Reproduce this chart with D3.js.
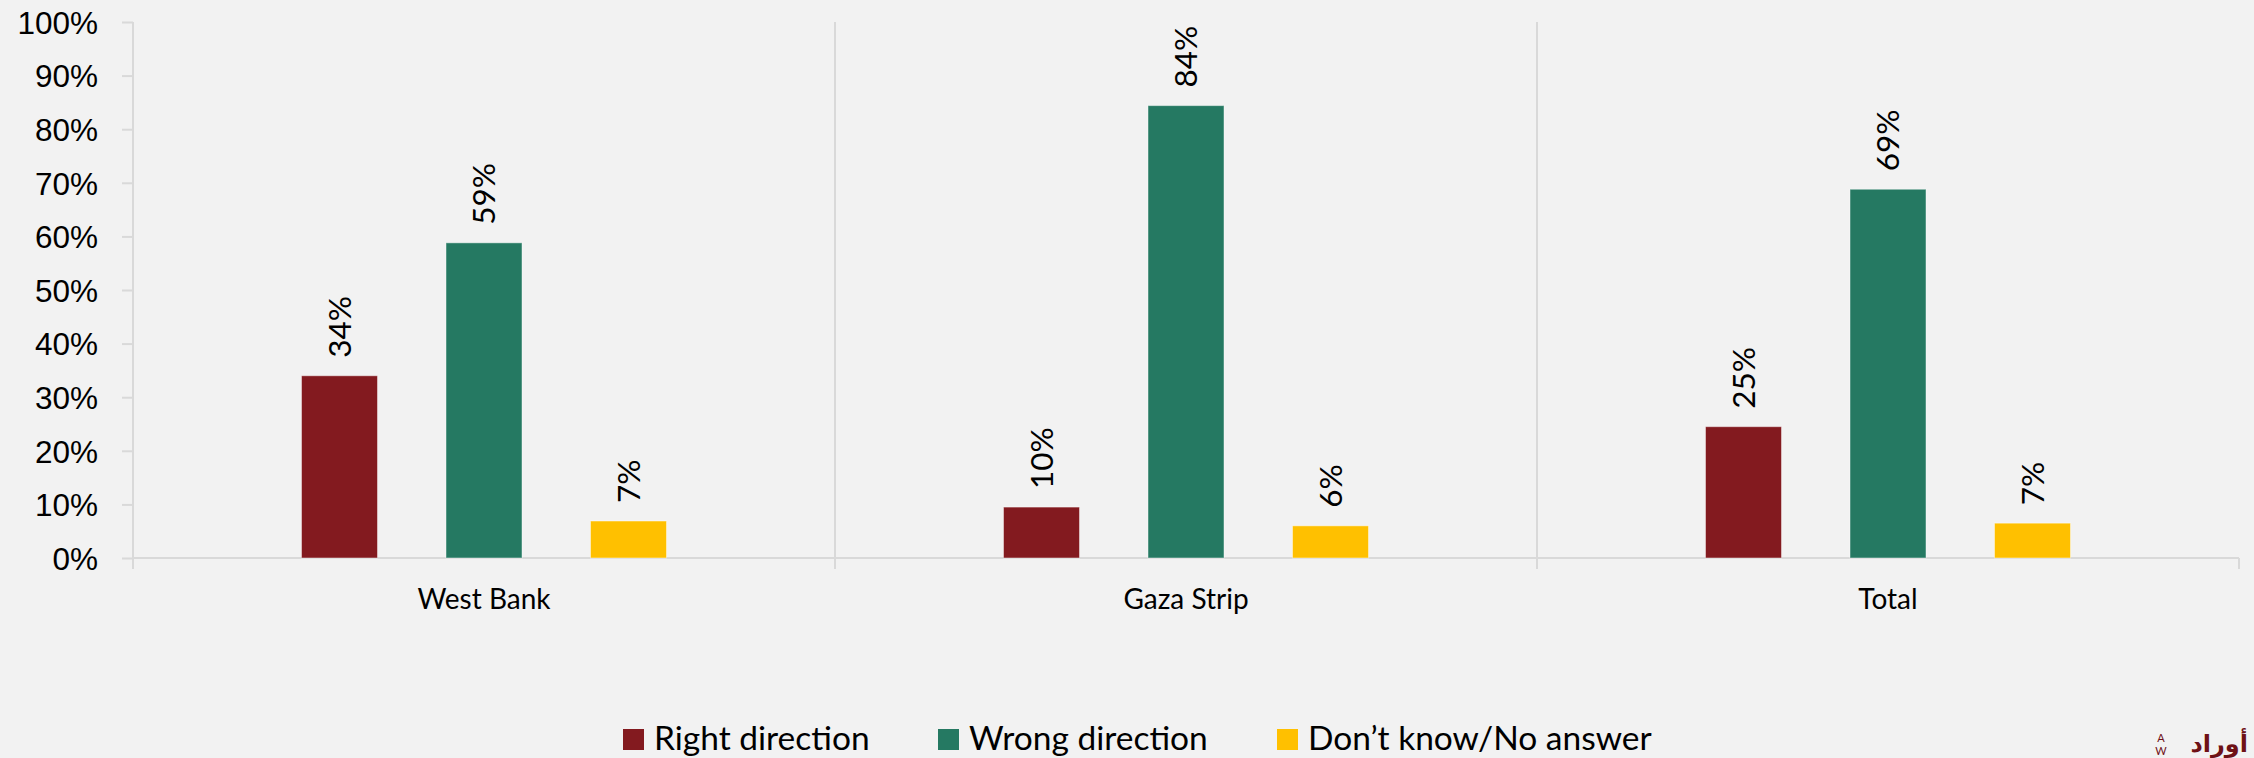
<!DOCTYPE html>
<html>
<head>
<meta charset="utf-8">
<script src="https://cdn.jsdelivr.net/npm/d3@7"></script>
<style>
  html, body { margin: 0; padding: 0; background: #f2f2f2; }
  svg { display: block; font-family: Lato, "Noto Sans", sans-serif; }
</style>
</head>
<body>
<svg id="chart"></svg>
<script>
// chart data
const regions = ["West Bank", "Gaza Strip", "Total"];
const answers = ["Right direction", "Wrong direction", "Don\u2019t know/No answer"];
const rightDirection = [34.0, 9.5, 24.5];
const wrongDirection = [58.8, 84.4, 68.8];
const dontKnow = [6.9, 6.0, 6.5];
const labelsRight = ["34%", "10%", "25%"];
const labelsWrong = ["59%", "84%", "69%"];
const labelsDont = ["7%", "6%", "7%"];
const yTicks = [0, 10, 20, 30, 40, 50, 60, 70, 80, 90, 100];
const colors = ["#831a1f", "#257962", "#ffc000"];

const seriesValues = [rightDirection, wrongDirection, dontKnow];
const seriesLabels = [labelsRight, labelsWrong, labelsDont];

const width = 2254, height = 758;
const margin = { top: 22, right: 15, bottom: 200, left: 133 };
const innerW = width - margin.left - margin.right;
const innerH = height - margin.top - margin.bottom;

const rows = [];
regions.forEach((r, i) => {
  answers.forEach((a, j) => {
    rows.push({ region: r, answer: a, value: seriesValues[j][i], label: seriesLabels[j][i], idx: j });
  });
});

const svg = d3.select("#chart").attr("width", width).attr("height", height);
svg.append("rect").attr("width", width).attr("height", height).attr("fill", "#f2f2f2");

const chart = svg.append("g").attr("transform", `translate(${margin.left},${margin.top})`);

const x0 = d3.scaleBand().domain(regions).range([0, innerW]).padding(0);
const x1 = d3.scaleBand().domain(answers).range([0, x0.bandwidth()])
  .paddingInner(0.474).paddingOuter(1.166);
const y = d3.scaleLinear().domain([0, 100]).range([innerH, 0]);

// category separators
chart.selectAll(".sep")
  .data(regions.slice(1))
  .join("line")
  .attr("class", "sep")
  .attr("x1", d => x0(d)).attr("x2", d => x0(d))
  .attr("y1", 0).attr("y2", innerH)
  .attr("stroke", "#d9d9d9").attr("stroke-width", 2);

// y axis
const yAxis = d3.axisLeft(y).tickValues(yTicks).tickFormat(d => d + "%").tickSizeOuter(0).tickSize(11).tickPadding(24);
const yG = chart.append("g").call(yAxis);
yG.select(".domain").remove();
yG.selectAll(".tick line").attr("stroke", "#d9d9d9").attr("stroke-width", 2);
yG.selectAll(".tick text").attr("fill", "#000").style("font-size", "31.5px").attr("dy", "0.36em");
chart.append("line").attr("x1", 0).attr("x2", 0).attr("y1", 0).attr("y2", innerH + 11)
  .attr("stroke", "#d9d9d9").attr("stroke-width", 2);

// x axis
chart.append("line").attr("x1", 0).attr("x2", innerW).attr("y1", innerH).attr("y2", innerH)
  .attr("stroke", "#d9d9d9").attr("stroke-width", 2);
const bounds = regions.map(r => x0(r)).concat([innerW]);
chart.selectAll(".xtick")
  .data(bounds)
  .join("line")
  .attr("class", "xtick")
  .attr("x1", d => d).attr("x2", d => d)
  .attr("y1", innerH).attr("y2", innerH + 11)
  .attr("stroke", "#d9d9d9").attr("stroke-width", 2);
chart.selectAll(".xlabel")
  .data(regions)
  .join("text")
  .attr("class", "xlabel")
  .attr("x", d => x0(d) + x0.bandwidth() / 2)
  .attr("y", innerH + 51)
  .attr("text-anchor", "middle")
  .style("font-size", "28px")
  .text(d => d);

// bars
chart.selectAll(".bar")
  .data(rows)
  .join("rect")
  .attr("class", "bar")
  .attr("x", d => x0(d.region) + x1(d.answer))
  .attr("width", x1.bandwidth())
  .attr("y", d => y(d.value))
  .attr("height", d => innerH - y(d.value))
  .attr("fill", d => colors[d.idx])
  .attr("stroke", "rgba(255,255,255,0.45)")
  .attr("stroke-width", 1);

// value labels
chart.selectAll(".vlabel")
  .data(rows)
  .join("text")
  .attr("class", "vlabel")
  .attr("transform", d => `translate(${x0(d.region) + x1(d.answer) + x1.bandwidth() / 2},${y(d.value) - 18}) rotate(-90)`)
  .attr("dy", "0.36em")
  .style("font-size", "31.5px")
  .text(d => d.label);

// legend
const legendX = [623, 938, 1277];
const legend = svg.append("g").attr("class", "legend");
const items = legend.selectAll(".legend-item")
  .data(answers)
  .join("g")
  .attr("class", "legend-item")
  .attr("transform", (d, i) => `translate(${legendX[i]}, 729)`);
items.append("rect").attr("width", 21).attr("height", 21).attr("fill", (d, i) => colors[i]);
items.append("text").attr("x", 31).attr("y", 21).style("font-size", "33.5px").text(d => d);

// logo
const logo = svg.append("g").attr("fill", "#6e1116");
logo.append("text").attr("x", 2161).attr("y", 742).attr("text-anchor", "middle").style("font-size", "11px").text("A");
logo.append("text").attr("x", 2161).attr("y", 755).attr("text-anchor", "middle").style("font-size", "11px").text("W");
logo.append("text").attr("x", 2248).attr("y", 752).attr("text-anchor", "end")
  .style("font-family", "DejaVu Sans").style("font-size", "24px").style("font-weight", "bold").text("أوراد");
</script>
</body>
</html>
